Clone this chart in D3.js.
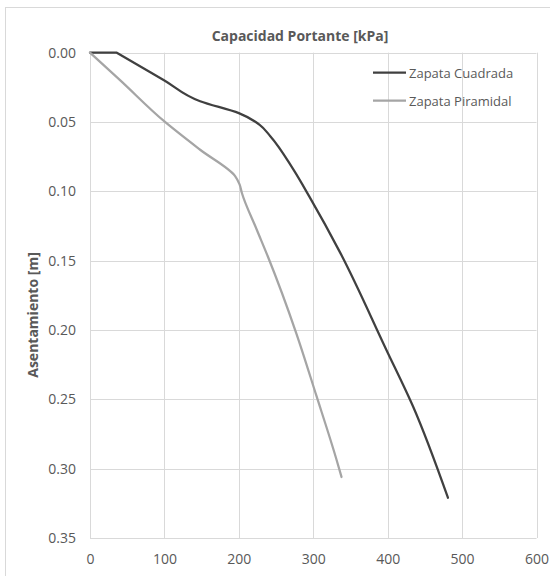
<!DOCTYPE html>
<html>
<head>
<meta charset="utf-8">
<script src="https://cdn.jsdelivr.net/npm/d3@7"></script>
<style>
  html, body { margin: 0; padding: 0; background: #ffffff; }
  svg { display: block; }
  text { font-family: "Open Sans", "Noto Sans", sans-serif; fill: #595959; }
</style>
</head>
<body>
<svg id="chart" width="550" height="576"></svg>
<script>
// ---- data ----
const seriesNames = ["Zapata Cuadrada", "Zapata Piramidal"];
const cuadradaCap = [0, 36, 100, 148, 200, 228, 242, 273, 295, 336, 398, 434, 481];
const cuadradaAsent = [0, 0, 0.020, 0.035, 0.0436, 0.052, 0.060, 0.084, 0.104, 0.144, 0.214, 0.255, 0.321];
const piramidalCap = [0, 40, 100, 148, 195, 201, 204, 224, 239, 277, 304, 331, 338];
const piramidalAsent = [0, 0.0196, 0.0496, 0.070, 0.089, 0.095, 0.101, 0.1275, 0.147, 0.202, 0.247, 0.293, 0.306];
const xTicks = [0, 100, 200, 300, 400, 500, 600];
const yTicks = [0, 0.05, 0.10, 0.15, 0.20, 0.25, 0.30, 0.35];
const chartTitle = "Capacidad Portante [kPa]";
const yTitle = "Asentamiento [m]";

(function () {
const colors = ["#404040", "#a5a5a5"];

const svg = d3.select("#chart");

// outer chart border
svg.append("rect").attr("x", 5.5).attr("y", 7.5).attr("width", 600).attr("height", 600)
  .attr("fill", "none").attr("stroke", "#d9d9d9").attr("stroke-width", 1);

const pLeft = 90, pRight = 536.5, pTop = 52.7, pBottom = 538;
const x = d3.scaleLinear().domain([0, 600]).range([pLeft, pRight]);
const y = d3.scaleLinear().domain([0, 0.35]).range([pTop, pBottom]);

// gridlines
const grid = svg.append("g");
grid.selectAll("line.v").data(xTicks).enter().append("line")
  .attr("x1", d => Math.round(x(d)) + 0.5).attr("x2", d => Math.round(x(d)) + 0.5)
  .attr("y1", pTop).attr("y2", pBottom)
  .attr("stroke", "#d9d9d9").attr("stroke-width", 1);
grid.selectAll("line.h").data(yTicks).enter().append("line")
  .attr("y1", d => Math.round(y(d)) + 0.5).attr("y2", d => Math.round(y(d)) + 0.5)
  .attr("x1", pLeft).attr("x2", pRight)
  .attr("stroke", "#d9d9d9").attr("stroke-width", 1);

// axes (labels only)
const xAxis = d3.axisBottom(x).tickValues(xTicks).tickSize(0).tickPadding(16).tickFormat(d3.format("d"));
const gx = svg.append("g").attr("transform", `translate(0,${pBottom})`).call(xAxis);
gx.select(".domain").remove();
gx.selectAll("text").style("font-size", "14px").attr("fill", "#595959");

const yAxis = d3.axisLeft(y).tickValues(yTicks).tickSize(0).tickPadding(14).tickFormat(d3.format(".2f"));
const gy = svg.append("g").attr("transform", `translate(${pLeft},0)`).call(yAxis);
gy.select(".domain").remove();
gy.selectAll("text").style("font-size", "14px").attr("fill", "#595959");

// series: smooth in depth direction; leading flat run (equal depth) drawn straight
const smooth = d3.line().x(d => x(d[0])).y(d => y(d[1])).curve(d3.curveMonotoneY);
function pathFor(pts) {
  let k = 0;
  while (k + 1 < pts.length && pts[k + 1][1] === pts[k][1]) k++;
  const head = pts.slice(0, k + 1).map((p, j) => (j ? "L" : "M") + x(p[0]) + "," + y(p[1])).join("");
  const tail = smooth(pts.slice(k));
  return k > 0 ? head + "L" + tail.slice(1) : tail;
}
const series = [
  d3.zip(cuadradaCap, cuadradaAsent),
  d3.zip(piramidalCap, piramidalAsent)
];
series.forEach((s, i) => {
  svg.append("path").attr("d", pathFor(s))
    .attr("fill", "none").attr("stroke", colors[i]).attr("stroke-width", 2.25)
    .attr("stroke-linejoin", "round").attr("stroke-linecap", "round");
});

// title
svg.append("text").attr("x", 300).attr("y", 41).attr("text-anchor", "middle")
  .style("font-size", "14px").style("font-weight", "bold").text(chartTitle);

// y axis title
svg.append("text").attr("transform", "translate(38,315) rotate(-90)").attr("text-anchor", "middle")
  .style("font-size", "14px").style("font-weight", "bold").text(yTitle);

// legend
const legendY = [72.7, 100.7];
seriesNames.forEach((n, i) => {
  svg.append("line").attr("x1", 373).attr("x2", 406).attr("y1", legendY[i]).attr("y2", legendY[i])
    .attr("stroke", colors[i]).attr("stroke-width", 2.25);
  svg.append("text").attr("x", 409).attr("y", legendY[i] + 4.8)
    .style("font-size", "13px").text(n);
});
})();
</script>
</body>
</html>
